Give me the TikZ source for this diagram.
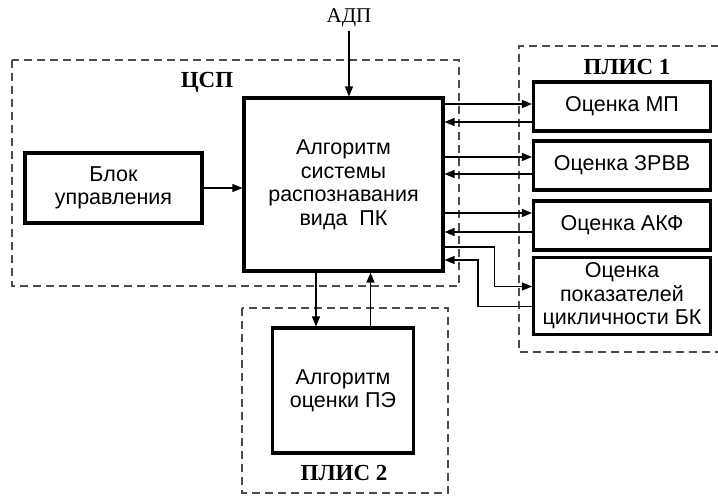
\documentclass[tikz,border=0pt]{standalone}
\usepackage{fontspec}
\setmainfont{Liberation Serif}
\newfontfamily\blockfont{Liberation Sans}
\usetikzlibrary{arrows.meta}
\tikzset{
	blok/.style={draw, line width=1.1mm, align=center, inner sep=1pt, font=\blockfont\fontsize{21.5}{23.5}\selectfont},
	zona/.style={draw=black!70, line width=0.45mm, dash pattern=on 8pt off 5pt},
	zonalabel/.style={font=\bfseries\fontsize{23}{25}\selectfont},
	svyaz/.style={line width=0.45mm, -{Triangle[length=10pt,width=8pt]}}
}

\begin{document}
\begin{tikzpicture}[x=1pt, y=-1pt]
			%%%%% START %%%%%
			\useasboundingbox (0, 0) rectangle (718, 497);
			
			% dashed zones
			\draw[zona] (12, 60) rectangle (459, 286);
			\draw[zona] (719, 46) -- (519, 46) -- (519, 352) -- (719, 352);
			\draw[zona] (242, 308) rectangle (448, 493);
			
			\node[zonalabel] (lcsp) at (207, 82) {ЦСП};
			\node[zonalabel] (lplis1) at (627, 67) {ПЛИС 1};
			\node[zonalabel] (lplis2) at (344, 473) {ПЛИС 2};
			
			% blocks
			\node[blok, minimum width=199pt, minimum height=173pt] (main) at (343.5, 184.5) {Алгоритм\\системы\\распознавания\\вида~ ПК};
			\node[blok, minimum width=177pt, minimum height=70pt] (upr) at (113.5, 188) {Блок\\управления};
			\node[blok, minimum width=141pt, minimum height=125pt] (pe) at (343, 390.5) {Алгоритм\\оценки ПЭ};
			
			\node[blok, minimum width=177pt, minimum height=49pt] (mp) at (622, 106.5) {Оценка МП};
			\node[blok, minimum width=177pt, minimum height=49pt] (zrvv) at (622, 165.5) {Оценка ЗРВВ};
			\node[blok, minimum width=177pt, minimum height=49pt] (akf) at (622, 225.5) {Оценка АКФ};
			\node[blok, minimum width=177pt, minimum height=77pt] (bk) at (622, 296) {Оценка\\показателей\\цикличности БК};
			
			\node[font=\fontsize{21}{23}\selectfont] (adp) at (349, 18) {АДП};
			
			% connectors
			\draw[svyaz] (adp.south) -- (adp.south |- main.north);
			\draw[svyaz] (upr.east) -- (upr.east -| main.west);
			
			\draw[svyaz] ([yshift=2.5pt]mp.west -| main.east) -- ([yshift=2.5pt]mp.west);
			\draw[svyaz] ([yshift=-15.5pt]mp.west) -- ([yshift=-15.5pt]mp.west -| main.east);
			\draw[svyaz] ([yshift=8.5pt]zrvv.west -| main.east) -- ([yshift=8.5pt]zrvv.west);
			\draw[svyaz] ([yshift=-8.5pt]zrvv.west) -- ([yshift=-8.5pt]zrvv.west -| main.east);
			\draw[svyaz] ([yshift=12.5pt]akf.west -| main.east) -- ([yshift=12.5pt]akf.west);
			\draw[svyaz] ([yshift=-6.5pt]akf.west) -- ([yshift=-6.5pt]akf.west -| main.east);
			
			\draw[svyaz] ([yshift=-62.5pt]main.east) -- ++(50, 0) |- ([yshift=9.5pt]bk.west);
			\draw[svyaz] ([yshift=-10.5pt]bk.west) -- ++(-54, 0) |- ([yshift=-75.5pt]main.east);
			
			\draw[svyaz] ([xshift=-27.5pt]main.south) -- ([xshift=-27.5pt]main.south |- pe.north);
			\draw[svyaz] ([xshift=27.5pt]pe.north) -- ([xshift=27.5pt]pe.north |- main.south);
			
			%%%%% END %%%%%
\end{tikzpicture}
\end{document}
